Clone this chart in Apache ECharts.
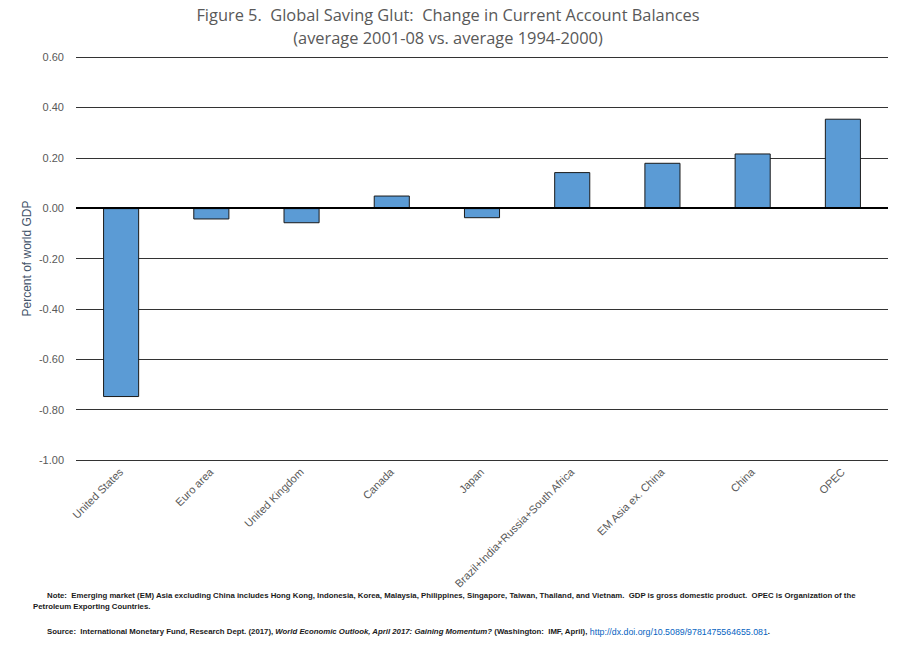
<!DOCTYPE html>
<html><head><meta charset="utf-8">
<script src="https://cdn.jsdelivr.net/npm/echarts@6/dist/echarts.min.js"></script>
<style>html,body{margin:0;padding:0;background:#fff;}#c{width:898px;height:649px;}</style>
</head><body><div id="c"></div>
<script>
const categories = ['United States','Euro area','United Kingdom','Canada','Japan','Brazil+India+Russia+South Africa','EM Asia ex. China','China','OPEC'];
const values = [-0.75, -0.045, -0.06, 0.05, -0.04, 0.143, 0.18, 0.217, 0.355];
const titleLines = ['Figure 5.  Global Saving Glut:  Change in Current Account Balances', '(average 2001-08 vs. average 1994-2000)'];
const yAxisName = 'Percent of world GDP';
const noteLine1 = 'Note:  Emerging market (EM) Asia excluding China includes Hong Kong, Indonesia, Korea, Malaysia, Philippines, Singapore, Taiwan, Thailand, and Vietnam.  GDP is gross domestic product.  OPEC is Organization of the';
const noteLine2 = 'Petroleum Exporting Countries.';
const sourceA = 'Source:  International Monetary Fund, Research Dept. (2017), ';
const sourceB = 'World Economic Outlook, April 2017: Gaining Momentum?';
const sourceC = ' (Washington:  IMF, April), ';
const sourceD = 'http://dx.doi.org/10.5089/9781475564655.081';
const sourceE = '.';

const chart = echarts.init(document.getElementById('c'), null, {renderer: 'svg'});
const noteFont = 'Liberation Sans';
const fs = 7.8;
chart.setOption({
  animation: false,
  grid: {left: 76, right: 10, top: 57, bottom: 189},
  xAxis: {
    type: 'category', data: categories,
    axisLine: {show: false, onZero: false}, axisTick: {show: false},
    axisLabel: {interval: 0, rotate: 45, color: '#595959', fontSize: 11, fontFamily: 'Liberation Sans', margin: 10}
  },
  yAxis: {
    type: 'value', min: -1, max: 0.6, interval: 0.2,
    name: yAxisName, nameLocation: 'middle', nameRotate: 90, nameGap: 43, nameMoveOverlap: false,
    nameTextStyle: {color: '#44546A', fontSize: 12, fontFamily: 'Liberation Sans'},
    axisLine: {show: false}, axisTick: {show: false},
    axisLabel: {color: '#595959', fontSize: 11, fontFamily: 'Liberation Sans', margin: 12, formatter: v => v.toFixed(2)},
    splitLine: {lineStyle: {color: '#333333', width: 1}}
  },
  series: [{
    type: 'bar', data: values, barWidth: '40%',
    itemStyle: {color: '#5B9BD5', borderColor: '#1a1a1a', borderWidth: 1},
    markLine: {silent: true, symbol: 'none', label: {show: false},
      lineStyle: {color: '#000', width: 2, type: 'solid'}, data: [{yAxis: 0}]}
  }],
  graphic: [
    {type: 'text', x: 448, y: 6, style: {text: titleLines[0], font: '16.4px "Open Sans"', fill: '#595959', textAlign: 'center'}},
    {type: 'text', x: 448, y: 29, style: {text: titleLines[1], font: '16.4px "Open Sans"', fill: '#595959', textAlign: 'center'}},
    {type: 'text', x: 47, y: 591, style: {text: noteLine1, font: 'bold ' + fs + 'px "' + noteFont + '"', fill: '#1a1a1a'}},
    {type: 'text', x: 33, y: 602, style: {text: noteLine2, font: 'bold ' + fs + 'px "' + noteFont + '"', fill: '#1a1a1a'}},
    {type: 'text', x: 47, y: 627, style: {
      text: '{a|' + sourceA + '}{b|' + sourceB + '}{a|' + sourceC + '}{d|' + sourceD + '}{a|' + sourceE + '}',
      rich: {
        a: {fontFamily: noteFont, fontWeight: 'bold', fontSize: fs, fill: '#1a1a1a'},
        b: {fontFamily: noteFont, fontWeight: 'bold', fontStyle: 'italic', fontSize: fs, fill: '#1a1a1a'},
        d: {fontFamily: noteFont, fontWeight: 'normal', fontSize: 8.8, fill: '#0563C1'}
      }
    }}
  ]
});
</script></body></html>
